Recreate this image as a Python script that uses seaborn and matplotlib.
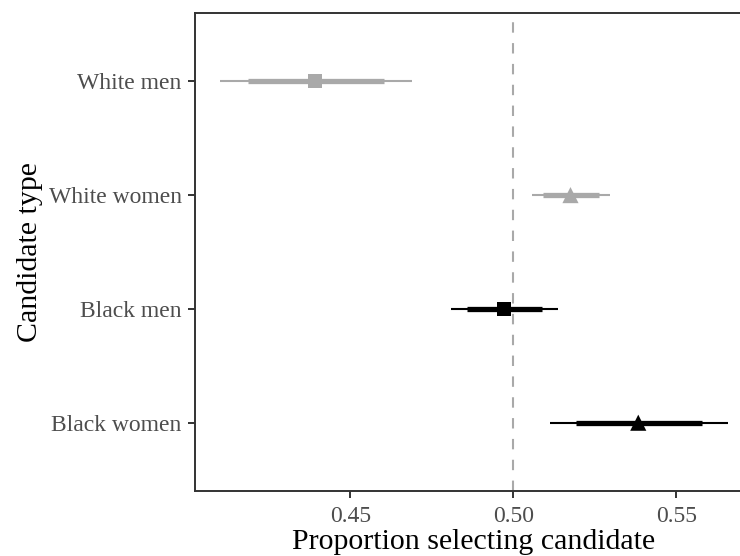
import matplotlib
matplotlib.use("Agg")
import matplotlib.pyplot as plt
import seaborn as sns
import pandas as pd

# ---- data ----
categories = ["White men", "White women", "Black men", "Black women"]
race = ["White", "White", "Black", "Black"]
gender = ["men", "women", "men", "women"]
estimate = [0.4392, 0.5175, 0.4972, 0.5383]
ci95_low = [0.4101, 0.5057, 0.4809, 0.5112]
ci95_high = [0.4688, 0.5296, 0.5137, 0.5657]
ci80_low = [0.4187, 0.5091, 0.4858, 0.5192]
ci80_high = [0.4602, 0.5263, 0.5089, 0.5577]
xticks = [0.45, 0.50, 0.55]
xtick_labels = ["0.45", "0.50", "0.55"]

sns.set_theme(style="white")
plt.rcParams["font.family"] = ["Liberation Serif", "DejaVu Serif"]

n = len(categories)
df = pd.DataFrame({
    "category": categories,
    "race": race,
    "gender": gender,
    "estimate": estimate,
    "lo95": ci95_low, "hi95": ci95_high,
    "lo80": ci80_low, "hi80": ci80_high,
})
df["ypos"] = [n - i for i in range(n)]

palette = {"White": "#A9A9A9", "Black": "#000000"}

fig = plt.figure(figsize=(7.4, 5.56), dpi=100)
W, H = 740.0, 556.0
left, right, top, bottom = 195, 753, 13, 491
ax = fig.add_axes([left / W, (H - bottom) / H, (right - left) / W, (bottom - top) / H])

ax.axvline(0.5, color="#A9A9A9", lw=1.5, ls=(0, (5, 5)), zorder=1)

for _, r in df.iterrows():
    c = palette[r["race"]]
    ax.hlines(r["ypos"], r["lo95"], r["hi95"], color=c, lw=1.5, zorder=2)
    ax.hlines(r["ypos"], r["lo80"], r["hi80"], color=c, lw=3.8, zorder=3)

for g, mk, s in [("men", "s", 105), ("women", "^", 135)]:
    sub = df[df["gender"] == g]
    sns.scatterplot(data=sub, x="estimate", y="ypos", hue="race", palette=palette,
                    marker=mk, s=s, linewidth=0, ax=ax, legend=False, zorder=4)

ax.set_xlim(0.4023, 0.5735)
ax.set_ylim(0.4, n + 0.6)
ax.set_yticks(df["ypos"])
ax.set_yticklabels(df["category"])
ax.set_xticks(xticks)
ax.set_xticklabels(xtick_labels)

ax.set_xlabel("Proportion selecting candidate", fontsize=21.5, color="black", labelpad=1.5)
ax.set_ylabel("Candidate type", fontsize=21.5, color="black", labelpad=4)
ax.tick_params(axis="both", labelsize=17, labelcolor="#4D4D4D", color="#333333",
               length=5.2, width=1.4, left=True, bottom=True)
ax.tick_params(axis="x", pad=5.5)
ax.tick_params(axis="y", pad=4.5)

for side in ["left", "bottom", "top"]:
    ax.spines[side].set_visible(True)
    ax.spines[side].set_color("#333333")
    ax.spines[side].set_linewidth(1.4)
ax.spines["right"].set_visible(False)
ax.grid(False)
ax.set_facecolor("white")

fig.savefig("out.png", dpi=100)
